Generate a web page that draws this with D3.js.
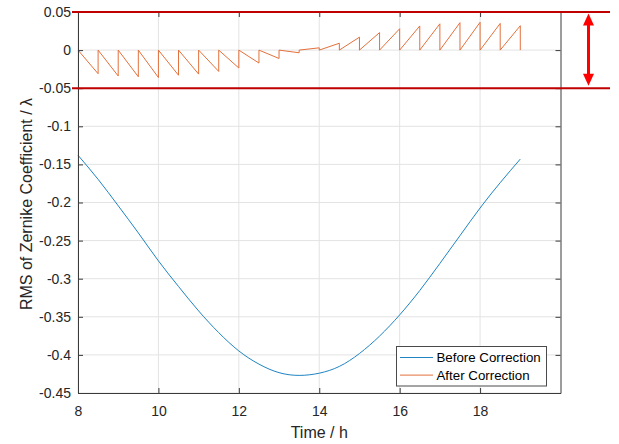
<!DOCTYPE html>
<html>
<head>
<meta charset="utf-8">
<script src="https://cdn.jsdelivr.net/npm/d3@7"></script>
<style>
  html, body { margin: 0; padding: 0; background: #fff; }
  svg { display: block; font-family: Arial, "Liberation Sans", sans-serif; }
</style>
</head>
<body>
<svg id="chart" width="619" height="444"></svg>
<script>
// ---------------- DATA ----------------
const seriesNames = ["Before Correction", "After Correction"];
const beforeTimes = [8, 8.5, 9, 9.5, 10, 10.5, 11, 11.5, 12, 12.5, 13, 13.5, 14, 14.5, 15, 15.5, 16, 16.5, 17, 17.5, 18, 18.5, 19];
const beforeValues = [-0.138, -0.1696, -0.2043, -0.2399, -0.2766, -0.3102, -0.3423, -0.3708, -0.3948, -0.4121, -0.4233, -0.4269, -0.4240, -0.4151, -0.3982, -0.3753, -0.3475, -0.3155, -0.2800, -0.2435, -0.2072, -0.1740, -0.143];
// After correction: value reached at the end of each half-hour interval (reset to 0 at each correction)
const correctionTimes = [8.5, 9, 9.5, 10, 10.5, 11, 11.5, 12, 12.5, 13, 13.5, 14, 14.5, 15, 15.5, 16, 16.5, 17, 17.5, 18, 18.5, 19];
const afterEndValues = [-0.031, -0.034, -0.035, -0.036, -0.033, -0.0315, -0.028, -0.0235, -0.017, -0.011, -0.0035, 0.003, 0.009, 0.017, 0.023, 0.028, 0.0317, 0.0345, 0.036, 0.0365, 0.035, 0.032];
const xTicks = [8, 10, 12, 14, 16, 18];
const yTicks = [0.05, 0, -0.05, -0.1, -0.15, -0.2, -0.25, -0.3, -0.35, -0.4, -0.45];
const toleranceBand = [0.05, -0.05];
const xLabel = "Time / h";
const yLabel = "RMS of Zernike Coefficient / λ";

// ---------------- LAYOUT ----------------
const svg = d3.select("#chart");
const pLeft = 78, pRight = 560.5, pTop = 12, pBottom = 393;
const x = d3.scaleLinear().domain([8, 20]).range([pLeft, pRight]);
const y = d3.scaleLinear().domain([-0.45, 0.05]).range([pBottom, pTop]);
const axisColor = "#3a3a3a";
const gridColor = "#e3e3e3";
const blue = "#1f84c2", orange = "#e3703c";

// grid
const grid = svg.append("g");
grid.selectAll("line.gx").data(xTicks).join("line")
  .attr("x1", d => x(d)).attr("x2", d => x(d)).attr("y1", pTop).attr("y2", pBottom)
  .attr("stroke", gridColor).attr("stroke-width", 1);
grid.selectAll("line.gy").data(yTicks).join("line")
  .attr("x1", pLeft).attr("x2", pRight).attr("y1", d => y(d)).attr("y2", d => y(d))
  .attr("stroke", gridColor).attr("stroke-width", 1);

// lines
const beforeData = beforeTimes.map((t, i) => [t, beforeValues[i]]);
const afterData = [[8, 0]];
correctionTimes.forEach((t, i) => { afterData.push([t, afterEndValues[i]]); afterData.push([t, 0]); });

svg.append("path").datum(beforeData)
  .attr("fill", "none").attr("stroke", blue).attr("stroke-width", 1)
  .attr("d", d3.line().x(d => x(d[0])).y(d => y(d[1])).curve(d3.curveNatural));
svg.append("path").datum(afterData)
  .attr("fill", "none").attr("stroke", orange).attr("stroke-width", 1)
  .attr("d", d3.line().x(d => x(d[0])).y(d => y(d[1])));

// axes
const fmt = v => String(+v.toFixed(2));
const axL = svg.append("g").attr("transform", `translate(${pLeft},0)`)
  .call(d3.axisLeft(y).tickValues(yTicks).tickFormat(fmt).tickSizeInner(-5).tickSizeOuter(0).tickPadding(7));
const axB = svg.append("g").attr("transform", `translate(0,${pBottom})`)
  .call(d3.axisBottom(x).tickValues(xTicks).tickFormat(d3.format("d")).tickSizeInner(-5).tickSizeOuter(0).tickPadding(13.5));
const axR = svg.append("g").attr("transform", `translate(${pRight},0)`)
  .call(d3.axisRight(y).tickValues(yTicks).tickFormat("").tickSizeInner(-5).tickSizeOuter(0));
const axT = svg.append("g").attr("transform", `translate(0,${pTop})`)
  .call(d3.axisTop(x).tickValues(xTicks).tickFormat("").tickSizeInner(-5).tickSizeOuter(0));
[axL, axB, axR, axT].forEach(g => {
  g.select(".domain").attr("stroke", axisColor).attr("stroke-width", 1);
  g.selectAll(".tick line").attr("stroke", axisColor);
  g.selectAll("text").attr("fill", "#262626").attr("font-size", 14)
    .attr("font-family", "Arial, 'Liberation Sans', sans-serif");
});

// axis labels
svg.append("text").attr("x", (pLeft + pRight) / 2).attr("y", 437.5)
  .attr("text-anchor", "middle").attr("font-size", 16).attr("fill", "#262626").text(xLabel);
svg.append("text").attr("transform", `translate(32,204) rotate(-90)`)
  .attr("text-anchor", "middle").attr("font-size", 16).attr("fill", "#262626").text(yLabel);

// legend
const lg = svg.append("g");
lg.append("rect").attr("x", 396.5).attr("y", 346.5).attr("width", 150).attr("height", 39.5)
  .attr("fill", "#fff").attr("stroke", "#4a4a4a").attr("stroke-width", 1);
const legendColors = [blue, orange];
seriesNames.forEach((name, i) => {
  const ly = 357.5 + i * 17.6;
  lg.append("line").attr("x1", 400).attr("x2", 433).attr("y1", ly).attr("y2", ly)
    .attr("stroke", legendColors[i]).attr("stroke-width", 1);
  lg.append("text").attr("x", 436.5).attr("y", ly).attr("dy", "0.35em")
    .attr("font-size", 13.3).attr("fill", "#000").text(name);
});

// tolerance band lines
svg.selectAll("line.band").data(toleranceBand).join("line")
  .attr("x1", 72).attr("x2", 610).attr("y1", d => y(d)).attr("y2", d => y(d))
  .attr("stroke", "#C00000").attr("stroke-width", 2);

// double arrow
const arX = 588.5, aTop = y(toleranceBand[0]) + 1.5, aBot = y(toleranceBand[1]) - 2.5;
const headL = 12, headW = 5.5;
svg.append("line").attr("x1", arX).attr("x2", arX).attr("y1", aTop + headL - 1).attr("y2", aBot - headL + 1)
  .attr("stroke", "#FF0000").attr("stroke-width", 3);
svg.append("path").attr("fill", "#FF0000")
  .attr("d", `M${arX},${aTop} L${arX - headW},${aTop + headL} L${arX + headW},${aTop + headL} Z`);
svg.append("path").attr("fill", "#FF0000")
  .attr("d", `M${arX},${aBot} L${arX - headW},${aBot - headL} L${arX + headW},${aBot - headL} Z`);
</script>
</body>
</html>
